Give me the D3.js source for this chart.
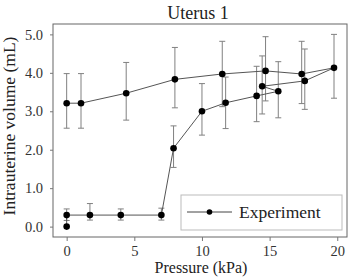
<!DOCTYPE html>
<html>
<head>
<meta charset="utf-8">
<script src="https://cdn.jsdelivr.net/npm/d3@7"></script>
<style>
  html, body { margin: 0; padding: 0; background: #fff; }
  svg text { font-family: "Liberation Serif", "Times New Roman", Times, "DejaVu Serif", serif !important; }
</style>
</head>
<body>
<div id="chart"></div>
<script>
// measurement order: loading up to 20 kPa, then unloading back to 0
const pressure = [0, 0, 1.72, 4.0, 7.0, 7.9, 10.0, 11.75, 14.04, 15.64, 14.45, 17.6, 19.76, 17.37, 14.7, 11.5, 8.0, 4.4, 1.06, 0];
const volume   = [0.0, 0.30, 0.30, 0.30, 0.30, 2.04, 3.0, 3.22, 3.40, 3.52, 3.65, 3.79, 4.13, 3.97, 4.05, 3.97, 3.83, 3.47, 3.21, 3.21];
const errLow   = [null, 0.16, 0.17, 0.17, 0.17, 1.54, 2.38, 2.55, 2.73, 2.83, 2.93, 3.05, 3.34, 3.20, 3.27, 3.12, 3.09, 2.77, 2.56, 2.56];
const errHigh  = [null, 0.46, 0.60, 0.46, 0.48, 2.62, 3.72, 3.89, 4.17, 4.29, 4.44, 4.62, 5.00, 4.82, 4.94, 4.82, 4.66, 4.27, 3.98, 3.98];

const xTicks = [0, 5, 10, 15, 20];
const yTicks = [0, 1, 2, 3, 4, 5];

const W = 351, H = 277;
const plot = { left: 53, right: 347, top: 24, bottom: 237 };

const svg = d3.select('#chart').append('svg')
  .attr('width', W).attr('height', H);

const x = d3.scaleLinear().domain([-1.01, 20.72]).range([plot.left, plot.right]);
const y = d3.scaleLinear().domain([-0.27, 5.27]).range([plot.bottom, plot.top]);

const rows = pressure.map((p, i) => ({ p, v: volume[i], lo: errLow[i], hi: errHigh[i] }));

// frame
svg.append('rect')
  .attr('x', plot.left).attr('y', plot.top)
  .attr('width', plot.right - plot.left).attr('height', plot.bottom - plot.top)
  .attr('fill', 'none').attr('stroke', '#666').attr('stroke-width', 1);

// axes
const xAxis = svg.append('g')
  .attr('transform', `translate(0,${plot.bottom})`)
  .call(d3.axisBottom(x).tickValues(xTicks).tickSize(4).tickPadding(5).tickFormat(d3.format('d')));
const yAxis = svg.append('g')
  .attr('transform', `translate(${plot.left},0)`)
  .call(d3.axisLeft(y).tickValues(yTicks).tickSize(3).tickPadding(7).tickFormat(d3.format('.1f')));

[xAxis, yAxis].forEach(a => {
  a.attr('font-family', null).attr('font-size', null);
  a.select('.domain').remove();
  a.selectAll('.tick line').attr('stroke', '#777');
  a.selectAll('.tick text')
    .attr('fill', '#333')
    .style('font-size', '14.5px');
});

// error bars
const eb = svg.append('g').attr('stroke', '#808080').attr('stroke-width', 1);
rows.filter(d => d.lo != null).forEach(d => {
  eb.append('line').attr('x1', x(d.p)).attr('x2', x(d.p)).attr('y1', y(d.lo)).attr('y2', y(d.hi));
  eb.append('line').attr('x1', x(d.p) - 3).attr('x2', x(d.p) + 3).attr('y1', y(d.lo)).attr('y2', y(d.lo));
  eb.append('line').attr('x1', x(d.p) - 3).attr('x2', x(d.p) + 3).attr('y1', y(d.hi)).attr('y2', y(d.hi));
});

// line
svg.append('path')
  .datum(rows)
  .attr('fill', 'none')
  .attr('stroke', '#555')
  .attr('stroke-width', 1)
  .attr('d', d3.line().x(d => x(d.p)).y(d => y(d.v)));

// points
svg.append('g').selectAll('circle')
  .data(rows)
  .join('circle')
  .attr('cx', d => x(d.p)).attr('cy', d => y(d.v))
  .attr('r', 3.3).attr('fill', '#000');

// title + labels
svg.append('text')
  .attr('x', 198).attr('y', 19)
  .attr('text-anchor', 'middle')
  .attr('fill', '#222')
  .style('font-size', '18px')
  .text('Uterus 1');

svg.append('text')
  .attr('transform', 'rotate(-90)')
  .attr('x', -126).attr('y', 15)
  .attr('text-anchor', 'middle')
  .attr('fill', '#222')
  .style('font-size', '17.5px')
  .text('Intrauterine volume (mL)');

svg.append('text')
  .attr('x', 201).attr('y', 273)
  .attr('text-anchor', 'middle')
  .attr('fill', '#222')
  .style('font-size', '16px')
  .text('Pressure (kPa)');

// legend
const lg = svg.append('g');
lg.append('rect')
  .attr('x', 181).attr('y', 195).attr('width', 161).attr('height', 35)
  .attr('fill', '#fff').attr('stroke', '#bbb').attr('stroke-width', 1);
lg.append('line')
  .attr('x1', 187).attr('x2', 232).attr('y1', 212).attr('y2', 212)
  .attr('stroke', '#444').attr('stroke-width', 1);
lg.append('circle').attr('cx', 209.5).attr('cy', 212).attr('r', 2.8).attr('fill', '#000');
lg.append('text')
  .attr('x', 239).attr('y', 218)
  .attr('fill', '#222')
  .style('font-size', '17.5px')
  .text('Experiment');
</script>
</body>
</html>
